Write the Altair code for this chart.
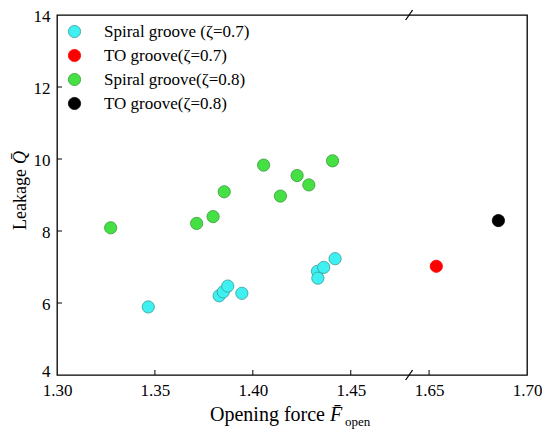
import altair as alt
import pandas as pd

# ---- data ----
series_names = ["Spiral groove (ζ=0.7)", "TO groove(ζ=0.7)", "Spiral groove(ζ=0.8)", "TO groove(ζ=0.8)"]
fill_colors = ["#3ef0f0", "#ff0000", "#44e044", "#000000"]
stroke_colors = ["#3a9a9a", "#ff0000", "#3a9a3a", "#000000"]

spiral07_x = [1.3466, 1.3828, 1.3849, 1.3872, 1.3944, 1.4330, 1.4332, 1.4362, 1.4420]
spiral07_y = [5.89, 6.20, 6.31, 6.47, 6.27, 6.88, 6.69, 6.99, 7.23]
to07_x = [1.6537]
to07_y = [7.02]
spiral08_x = [1.3274, 1.3713, 1.3797, 1.3854, 1.4055, 1.4141, 1.4226, 1.4286, 1.4407]
spiral08_y = [8.09, 8.21, 8.40, 9.09, 9.83, 8.97, 9.54, 9.28, 9.95]
to08_x = [1.6854]
to08_y = [8.29]

x_tick_values = [1.30, 1.35, 1.40, 1.45, 1.65, 1.70]
y_tick_values = [4, 6, 8, 10, 12, 14]

# broken axis: values above the break are shifted left by GAP
GAP = 0.16
BREAK_AT = 1.4798  # position of the break on the compressed axis


def compress(v):
    return v - GAP if v > 1.5 else v


rows = []
for name, xs, ys in [
    (series_names[0], spiral07_x, spiral07_y),
    (series_names[1], to07_x, to07_y),
    (series_names[2], spiral08_x, spiral08_y),
    (series_names[3], to08_x, to08_y),
]:
    for xv, yv in zip(xs, ys):
        rows.append({"force": xv, "xt": compress(xv), "leak": yv, "series": name})
df = pd.DataFrame(rows)

xt_ticks = [round(compress(v), 4) for v in x_tick_values]

serif = "Liberation Serif"
W, H = 470, 360

xscale = alt.Scale(domain=[1.30, 1.54], nice=False, zero=False)
yscale = alt.Scale(domain=[4, 14], nice=False, zero=False)

legend_kw = dict(title=None, orient="none", legendX=9, legendY=8,
                 symbolType="circle", symbolSize=150, symbolStrokeWidth=0.8,
                 labelFont=serif, labelFontSize=17, labelColor="black",
                 rowPadding=6, labelOffset=21, padding=0)

points = alt.Chart(df).mark_point(filled=True, size=150, strokeWidth=0.8, opacity=1).encode(
    x=alt.X("xt:Q", scale=xscale,
            axis=alt.Axis(values=xt_ticks, ticks=False, domain=False, grid=False, title=None,
                          labelExpr="datum.value > 1.47 ? format(datum.value + 0.16, '.2f') : format(datum.value, '.2f')",
                          labelPadding=7, labelOverlap=False, labelFlush=False,
                          labelFont=serif, labelFontSize=17, labelColor="black")),
    y=alt.Y("leak:Q", scale=yscale,
            axis=alt.Axis(values=y_tick_values, format="d", ticks=False, domain=False, grid=False,
                          title=None, labelPadding=7, labelOverlap=False, labelFlush=False,
                          labelOffset=1,
                          labelBaseline={"condition": {"test": "datum.value == 4", "value": "alphabetic"},
                                         "value": "middle"},
                          labelFont=serif, labelFontSize=17, labelColor="black")),
    color=alt.Color("series:N", scale=alt.Scale(domain=series_names, range=fill_colors),
                    legend=alt.Legend(**legend_kw)),
    stroke=alt.Stroke("series:N", scale=alt.Scale(domain=series_names, range=stroke_colors),
                      legend=alt.Legend(**legend_kw)),
)

# inward ticks
xt_inner = pd.DataFrame({"xt": xt_ticks[1:-1]})
x_ticks = alt.Chart(xt_inner).mark_rule(color="black", strokeWidth=1).encode(
    x=alt.X("xt:Q", scale=xscale), y=alt.value(H - 5), y2=alt.value(H)
)
yt_inner = pd.DataFrame({"leak": y_tick_values[1:-1]})
y_ticks = alt.Chart(yt_inner).mark_rule(color="black", strokeWidth=1).encode(
    y=alt.Y("leak:Q", scale=yscale), x=alt.value(0), x2=alt.value(5)
)

# break marks on the bottom and top frame lines
brk = pd.DataFrame({"b": [BREAK_AT]})
break_bottom = alt.Chart(brk).mark_rule(color="black", strokeWidth=1.3,
                                        xOffset=-3.5, x2Offset=3.5, yOffset=5, y2Offset=-5).encode(
    x=alt.X("b:Q", scale=xscale), x2="b:Q", y=alt.value(H), y2=alt.value(H)
)
break_top = alt.Chart(brk).mark_rule(color="black", strokeWidth=1.3,
                                     xOffset=-3.5, x2Offset=3.5, yOffset=5, y2Offset=-5).encode(
    x=alt.X("b:Q", scale=xscale), x2="b:Q", y=alt.value(0), y2=alt.value(0)
)


# axis titles
def txt(s, x, y, size, style="normal", angle=0):
    kw = dict(align="left", baseline="alphabetic", font=serif, fontSize=size,
              fontStyle=style, color="black")
    if angle:
        kw["angle"] = angle
    return alt.Chart(pd.DataFrame({"t": [s]})).mark_text(**kw).encode(
        text="t:N", x=alt.value(x), y=alt.value(y))


xt1 = txt("Opening force", 153, 406, 20)
xt2 = txt("F\u0304", 273, 406, 20, "italic")
xt3 = txt("open", 288, 411, 13)
yt1 = txt("Leakage", -31, 215, 18, angle=270)
yt2 = txt("Q\u0304", -31, 149, 18, "italic", angle=270)

chart = alt.layer(points, x_ticks, y_ticks, break_bottom, break_top, xt1, xt2, xt3, yt1, yt2).properties(
    width=W, height=H,
    padding={"left": 49, "top": 7, "right": 15, "bottom": 60},
    autosize=alt.AutoSizeParams(type="none"),
    background="white",
).configure_view(stroke="black", strokeWidth=1.3)

chart.save("out.html", embed_options={"renderer": "svg", "actions": False})
